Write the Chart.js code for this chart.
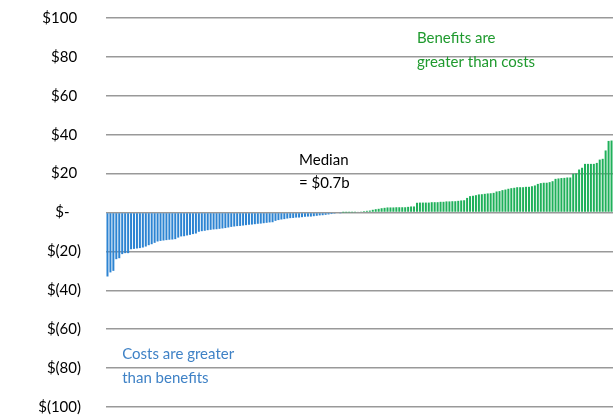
<!DOCTYPE html>
<html>
<head>
<meta charset="utf-8">
<script src="https://cdn.jsdelivr.net/npm/chart.js@4.4.0/dist/chart.umd.min.js"></script>
<style>
  html, body { margin: 0; padding: 0; background: #fff; overflow: hidden; }
  canvas { display: block; }
</style>
</head>
<body>
<canvas id="myChart" width="613" height="417"></canvas>
<script>
// net benefit per project ($b), sorted lowest to highest
const costSide = [
  -32.9, -30.8, -30.0, -24.0, -23.5, -21.4, -20.9, -20.9, -18.9, -18.7,
  -18.5, -18.3, -18.0, -17.5, -16.8, -16.3, -15.6, -14.9, -14.6, -14.4,
  -14.2, -14.0, -13.9, -13.7, -12.9, -12.3, -12.2, -11.8, -11.5, -11.1,
  -10.8, -9.9, -9.6, -9.4, -9.1, -8.9, -8.7, -8.6, -8.4, -8.2,
  -8.0, -7.7, -7.4, -7.2, -7.0, -6.9, -6.7, -6.5, -6.3, -6.2,
  -6.0, -5.8, -5.7, -5.5, -5.3, -5.1, -5.0, -4.3, -3.9, -3.6,
  -3.4, -3.1, -2.9, -2.8, -2.6, -2.6, -2.4, -2.2, -2.1, -2.1,
  -1.9, -1.7, -1.5, -1.4, -1.2, -1.0, -0.8, -0.6, -0.4, -0.2
];
const benefitSide = [
  0.02, 0.05, 0.08, 0.12,
  0.17, 0.34, 0.5, 0.7, 0.86, 1.0, 1.4, 1.7, 1.9, 2.2,
  2.4, 2.6, 2.6, 2.6, 2.7, 2.7, 2.7, 2.7, 2.9, 3.1, 3.1,
  5.0, 5.1, 5.1, 5.1, 5.1, 5.3, 5.3, 5.3, 5.5, 5.5,
  5.7, 5.7, 5.8, 5.8, 6.0, 6.2, 6.3, 7.5, 8.4, 8.6, 8.9,
  9.3, 9.4, 9.6, 9.8, 9.9, 10.1, 10.8, 11.0, 11.5, 11.8,
  12.2, 12.5, 12.7, 13.0, 13.0, 13.0, 13.2, 13.2, 13.5, 13.9,
  14.7, 15.1, 15.3, 15.3, 15.6, 16.1, 17.3, 17.5, 17.7, 17.8,
  18.0, 18.0, 19.9, 20.1, 22.1, 23.0, 25.0, 25.0, 25.0, 25.0,
  25.5, 27.2, 27.6, 31.9, 36.8, 37.0
];
const values = costSide.concat(benefitSide);
const labels = values.map((v, i) => 'P' + (i + 1));

const yTicks = [100, 80, 60, 40, 20, 0, -20, -40, -60, -80, -100];

// notes: [text lines, x index, y value, colour]
const notes = [
  [['Benefits are', 'greater than costs'], 105, 89.5, '#1f9a2e'],
  [['Median', '= $0.7b'], 65, 27, '#000000'],
  [['Costs are greater', 'than benefits'], 5, -73, '#3f82c6']
];

function moneyLabel(v) {
  if (v === 0) return '$-   ';
  if (v < 0) return '$(' + (-v) + ')';
  return '$' + v + ' ';
}

const notesPlugin = {
  id: 'notes',
  afterDraw(chart) {
    const ctx = chart.ctx;
    const xs = chart.scales.x, ys = chart.scales.y;
    ctx.save();
    ctx.font = '15px Lato, "Open Sans", sans-serif';
    ctx.textAlign = 'left';
    ctx.textBaseline = 'middle';
    notes.forEach(function (n) {
      const x = xs.getPixelForValue(n[1]);
      const y = ys.getPixelForValue(n[2]);
      ctx.fillStyle = n[3];
      n[0].forEach(function (line, k) {
        ctx.fillText(line, x, y + k * 23.5);
      });
    });
    ctx.restore();
  }
};

const ctx = document.getElementById('myChart').getContext('2d');
const myChart = new Chart(ctx, {
  type: 'bar',
  data: {
    labels: labels,
    datasets: [{
      data: values,
      backgroundColor: values.map(v => v < 0 ? '#2d84d2' : '#1fb05a'),
      borderWidth: 0,
      barPercentage: 0.68,
      categoryPercentage: 1.0
    }]
  },
  options: {
    responsive: false,
    animation: false,
    layout: { padding: { top: 18, bottom: 10, left: 0, right: 0 } },
    plugins: {
      legend: { display: false },
      tooltip: { enabled: false }
    },
    scales: {
      x: {
        display: false
      },
      y: {
        min: -100,
        max: 100,
        afterBuildTicks: function (scale) {
          scale.ticks = yTicks.map(v => ({ value: v }));
        },
        afterFit: function (scale) {
          scale.width = 106;
          scale.paddingTop = 0;
          scale.paddingBottom = 0;
        },
        border: { display: false },
        grid: { color: '#999999', lineWidth: 1.5, drawTicks: false },
        ticks: {
          padding: 25,
          color: '#000000',
          font: { size: 15, family: 'Lato, "Open Sans", sans-serif' },
          callback: function (v) { return moneyLabel(v); }
        }
      }
    }
  },
  plugins: [notesPlugin]
});
</script>
</body>
</html>
